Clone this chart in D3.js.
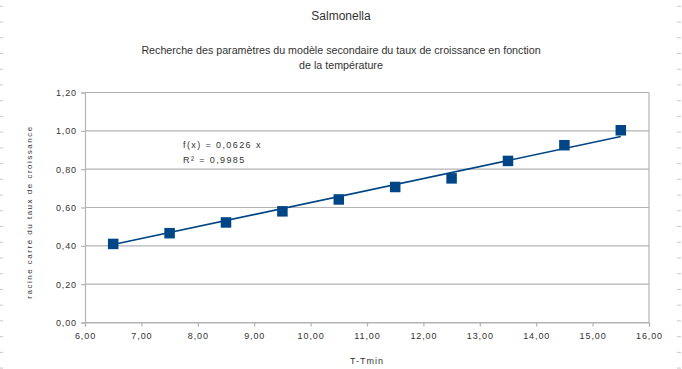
<!DOCTYPE html>
<html>
<head>
<meta charset="utf-8">
<script src="https://cdn.jsdelivr.net/npm/d3@7"></script>
<style>
  body { margin: 0; background: #fff; }
  svg { font-family: "Liberation Sans", Arial, sans-serif; }
</style>
</head>
<body>
<svg id="chart" width="682" height="369"></svg>
<script>
// data
const tValues = [6.5, 7.5, 8.5, 9.5, 10.5, 11.5, 12.5, 13.5, 14.5, 15.5];
const rootRates = [0.41, 0.466, 0.522, 0.58, 0.642, 0.707, 0.752, 0.843, 0.925, 1.003];
const slope = 0.0626;
const r2 = "0,9985";
const xTicks = [6, 7, 8, 9, 10, 11, 12, 13, 14, 15, 16];
const yTicks = [0, 0.2, 0.4, 0.6, 0.8, 1.0, 1.2];

const svg = d3.select("#chart");
const fmt = v => d3.format(".2f")(v).replace(".", ",");

const x = d3.scaleLinear().domain([6, 16]).range([85, 649]);
const y = d3.scaleLinear().domain([0, 1.2]).range([322.5, 92.5]);

// little page marks at the edges
for (let yy = 6.3; yy < 369; yy += 15.73) {
  svg.append("line").attr("x1", 0).attr("x2", 3).attr("y1", yy).attr("y2", yy).attr("stroke", "#c8c8c8");
  svg.append("line").attr("x1", 677).attr("x2", 681).attr("y1", yy).attr("y2", yy).attr("stroke", "#c8c8c8");
}

// gridlines
svg.append("g").selectAll("line")
  .data(yTicks)
  .join("line")
  .attr("x1", x(6)).attr("x2", x(16))
  .attr("y1", d => y(d)).attr("y2", d => y(d))
  .attr("stroke", "#b3b3b3").attr("stroke-width", 1.2);

// right edge of the plot area
svg.append("line").attr("x1", x(16)).attr("x2", x(16)).attr("y1", y(1.2)).attr("y2", y(0))
  .attr("stroke", "#b3b3b3").attr("stroke-width", 1.2);

const xAxis = svg.append("g")
  .attr("transform", `translate(0,${y(0)})`)
  .call(d3.axisBottom(x).tickValues(xTicks).tickFormat(fmt).tickSize(4).tickPadding(6));
const yAxis = svg.append("g")
  .attr("transform", `translate(${x(6)},0)`)
  .call(d3.axisLeft(y).tickValues(yTicks).tickFormat(fmt).tickSize(4).tickPadding(4));

[xAxis, yAxis].forEach(g => {
  g.select(".domain").attr("stroke", "#b3b3b3").attr("stroke-width", 1.2);
  g.selectAll(".tick line").attr("stroke", "#b3b3b3").attr("stroke-width", 1.2);
  g.selectAll(".tick text").attr("fill", "#333").style("font-size", "9px")
    .style("letter-spacing", "0.9px")
    .style("font-family", "Liberation Sans, Arial, sans-serif");
});

// trend line f(x) = slope * x
const lo = d3.min(tValues), hi = d3.max(tValues);
svg.append("line")
  .attr("x1", x(lo)).attr("y1", y(slope * lo))
  .attr("x2", x(hi)).attr("y2", y(slope * hi))
  .attr("stroke", "#004586").attr("stroke-width", 1.6);

// markers
svg.append("g").selectAll("rect")
  .data(tValues)
  .join("rect")
  .attr("x", d => x(d) - 5.25)
  .attr("y", (d, i) => y(rootRates[i]) - 5.25)
  .attr("width", 10.5).attr("height", 10.5)
  .attr("fill", "#004586");

// equation
svg.append("text").attr("x", 183).attr("y", 148)
  .attr("font-size", 9).attr("fill", "#333").style("letter-spacing", "1.4px")
  .text("f(x) = " + String(slope).replace(".", ",") + " x");
svg.append("text").attr("x", 183).attr("y", 163)
  .attr("font-size", 9).attr("fill", "#333").style("letter-spacing", "1.4px")
  .text("R² = " + r2);

// titles
svg.append("text").attr("x", 341).attr("y", 20).attr("text-anchor", "middle")
  .attr("font-size", 12).attr("fill", "#333").text("Salmonella");
svg.append("text").attr("x", 341).attr("y", 54).attr("text-anchor", "middle")
  .attr("font-size", 10.7).attr("fill", "#333")
  .text("Recherche des paramètres du modèle secondaire du taux de croissance en fonction");
svg.append("text").attr("x", 341).attr("y", 69).attr("text-anchor", "middle")
  .attr("font-size", 10.7).attr("fill", "#333").text("de la température");

// axis titles
svg.append("text").attr("x", 367).attr("y", 364).attr("text-anchor", "middle")
  .attr("font-size", 9).attr("fill", "#333").style("letter-spacing", "1px").text("T-Tmin");
svg.append("text")
  .attr("transform", "translate(32,212) rotate(-90)")
  .attr("text-anchor", "middle")
  .attr("font-size", 8).attr("fill", "#333").style("letter-spacing", "1.5px")
  .text("racine carré du taux de croissance");
</script>
</body>
</html>
